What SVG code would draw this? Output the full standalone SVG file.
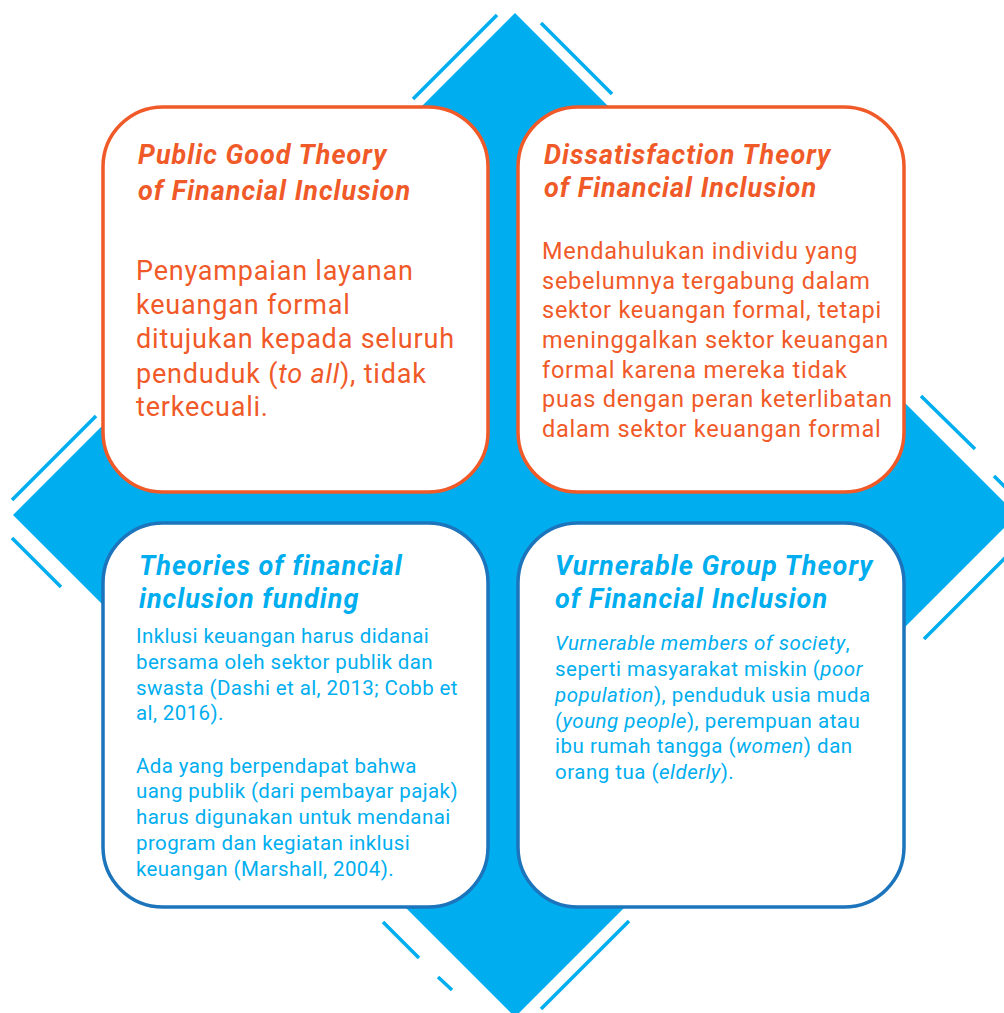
<svg xmlns="http://www.w3.org/2000/svg" width="1004" height="1013" viewBox="0 0 1004 1013">
  <style>
    .accent { stroke: #00AEEF; stroke-width: 3.5; fill: none; }
    .box { fill: #FFFFFF; stroke-width: 3.5; }
    .warm { stroke: #F05A28; }
    .cool { stroke: #1C75BC; }
    .title { font-family: Roboto, "Liberation Sans", sans-serif; font-weight: 700; font-style: italic; font-size: 27px; letter-spacing: 1px; }
    .body { font-family: Roboto, "Liberation Sans", sans-serif; font-weight: 400; }
    .or { fill: #F05A28; }
    .bl { fill: #00AEEF; }
    .it { font-style: italic; }
  </style>

  <!-- background diamond -->
  <polygon points="515,13 1017,515 515,1017 13,515" fill="#00AEEF"/>

  <!-- decorative strokes parallel to the diamond edges -->
  <g id="accents">
    <line class="accent" x1="413" y1="99" x2="497" y2="15"/>
    <line class="accent" x1="12" y1="500" x2="96" y2="416"/>
    <line class="accent" x1="541" y1="23" x2="612" y2="94"/>
    <line class="accent" x1="921" y1="396" x2="975" y2="449"/>
    <line class="accent" x1="994" y1="476" x2="1006" y2="488"/>
    <line class="accent" x1="12" y1="538" x2="61" y2="587"/>
    <line class="accent" x1="383" y1="922" x2="419" y2="958"/>
    <line class="accent" x1="438" y1="977" x2="452" y2="990"/>
    <line class="accent" x1="541" y1="1009" x2="629" y2="921"/>
    <line class="accent" x1="924" y1="639" x2="1006" y2="557"/>
  </g>

  <!-- top-left: Public Good Theory -->
  <g id="public-good">
    <rect class="box warm" x="103" y="107" width="385" height="385" rx="60" ry="60"/>
    <text class="title or" x="138" y="164">Public Good Theory</text>
    <text class="title or" x="138" y="200">of Financial Inclusion</text>
    <text class="body or" font-size="27" letter-spacing="0.8">
      <tspan x="136" y="280">Penyampaian layanan</tspan>
      <tspan x="136" y="314">keuangan formal</tspan>
      <tspan x="136" y="348">ditujukan kepada seluruh</tspan>
      <tspan x="136" y="383">penduduk (<tspan class="it">to all</tspan>), tidak</tspan>
      <tspan x="136" y="416">terkecuali.</tspan>
    </text>
  </g>

  <!-- top-right: Dissatisfaction Theory -->
  <g id="dissatisfaction">
    <rect class="box warm" x="518" y="107" width="386" height="385" rx="60" ry="60"/>
    <text class="title or" x="544" y="164">Dissatisfaction Theory</text>
    <text class="title or" x="544" y="197">of Financial Inclusion</text>
    <text class="body or" font-size="23.5" letter-spacing="0.75">
      <tspan x="542" y="259">Mendahulukan individu yang</tspan>
      <tspan x="542" y="289">sebelumnya tergabung dalam</tspan>
      <tspan x="542" y="318">sektor keuangan formal, tetapi</tspan>
      <tspan x="542" y="348">meninggalkan sektor keuangan</tspan>
      <tspan x="542" y="378">formal karena mereka tidak</tspan>
      <tspan x="542" y="407">puas dengan peran keterlibatan</tspan>
      <tspan x="542" y="437">dalam sektor keuangan formal</tspan>
    </text>
  </g>

  <!-- bottom-left: funding theories -->
  <g id="funding">
    <rect class="box cool" x="103" y="523" width="385" height="384" rx="60" ry="60"/>
    <text class="title bl" x="139" y="575">Theories of financial</text>
    <text class="title bl" x="139" y="608">inclusion funding</text>
    <text class="body bl" font-size="20.5" letter-spacing="0.4">
      <tspan x="136" y="643">Inklusi keuangan harus didanai</tspan>
      <tspan x="136" y="669">bersama oleh sektor publik dan</tspan>
      <tspan x="136" y="695">swasta (Dashi et al, 2013; Cobb et</tspan>
      <tspan x="136" y="720">al, 2016).</tspan>
      <tspan x="136" y="773">Ada yang berpendapat bahwa</tspan>
      <tspan x="136" y="798">uang publik (dari pembayar pajak)</tspan>
      <tspan x="136" y="824">harus digunakan untuk mendanai</tspan>
      <tspan x="136" y="850">program dan kegiatan inklusi</tspan>
      <tspan x="136" y="876">keuangan (Marshall, 2004).</tspan>
    </text>
  </g>

  <!-- bottom-right: Vurnerable Group Theory -->
  <g id="vulnerable-group">
    <rect class="box cool" x="518" y="523" width="386" height="384" rx="60" ry="60"/>
    <text class="title bl" x="555" y="575">Vurnerable Group Theory</text>
    <text class="title bl" x="555" y="608">of Financial Inclusion</text>
    <text class="body bl" font-size="20.5" letter-spacing="0.5">
      <tspan x="555" y="650"><tspan class="it">Vurnerable members of society</tspan>,</tspan>
      <tspan x="555" y="676">seperti masyarakat miskin (<tspan class="it">poor</tspan></tspan>
      <tspan x="555" y="702"><tspan class="it">population</tspan>), penduduk usia muda</tspan>
      <tspan x="555" y="728">(<tspan class="it">young people</tspan>), perempuan atau</tspan>
      <tspan x="555" y="753">ibu rumah tangga (<tspan class="it">women</tspan>) dan</tspan>
      <tspan x="555" y="779">orang tua (<tspan class="it">elderly</tspan>).</tspan>
    </text>
  </g>
</svg>
